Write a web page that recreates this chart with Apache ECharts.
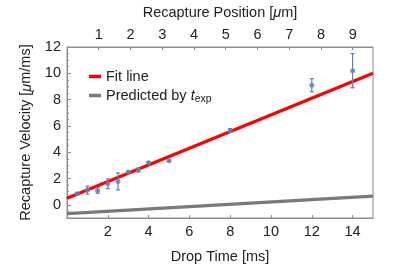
<!DOCTYPE html>
<html><head><meta charset="utf-8">
<script src="https://cdn.jsdelivr.net/npm/echarts@6/dist/echarts.min.js"></script>
<style>html,body{margin:0;padding:0;background:#fff}#c{width:403px;height:269px}</style>
</head><body><div id="c"></div>
<script>
// Data
const dropTime = [0.5, 1, 1.5, 2, 2.5, 3, 3.5, 4, 5, 8, 12, 14];
const velocity = [0.85, 1.12, 1.1, 1.6, 1.78, 2.5, 2.65, 3.2, 3.35, 5.65, 9.1, 10.2];
const velErr   = [0.08, 0.3, 0.22, 0.37, 0.64, 0.06, 0.15, 0.06, 0.05, 0.15, 0.5, 1.3];
const fitX = [0, 15];
const fitY = [0.5, 10];
const predX = [0, 15];
const predY = [-0.66, 0.66];
const yTicks = [0, 2, 4, 6, 8, 10, 12];
const yMinorTicks = [-0.5,0.5,1,1.5,2.5,3,3.5,4.5,5,5.5,6.5,7,7.5,8.5,9,9.5,10.5,11,11.5];
const topTicks = [1,2,3,4,5,6,7,8,9];
const bottomTicks = [2,4,6,8,10,12,14];

const axisGray = '#8c8c8c';
const font = 'Liberation Sans, Arial, sans-serif';
const chart = echarts.init(document.getElementById('c'), null, {renderer:'canvas'});

const errData = dropTime.map((x,i)=>[x, velocity[i]-velErr[i], velocity[i]+velErr[i]]);

chart.setOption({
  animation:false,
  backgroundColor:'#fff',
  grid:{left:67, right:30, top:40, bottom:42, show:true, borderColor:axisGray, borderWidth:1},
  legend:{
    left:84, top:64, orient:'vertical', itemGap:4, itemWidth:12, itemHeight:3.5,
    icon:'rect',
    data:['Fit line','Predicted'],
    formatter: n => n==='Predicted' ? 'Predicted by {i|t}{s|exp}' : n,
    textStyle:{fontFamily:font, fontSize:14.5, color:'#222',
      rich:{i:{fontStyle:'italic', fontSize:14.5, fontFamily:font, color:'#222'},
            s:{fontSize:10.5, fontFamily:font, color:'#222', padding:[8,0,0,0]}}}
  },
  xAxis:[
    {type:'value', position:'bottom', min:0, max:15,
     name:'Drop Time [ms]', nameLocation:'middle', nameGap:31,
     nameTextStyle:{fontFamily:font, fontSize:14.5, color:'#222'},
     axisLine:{show:true, onZero:false, lineStyle:{color:axisGray}},
     axisTick:{show:true, inside:true, length:3, customValues:bottomTicks, lineStyle:{color:axisGray}},
     axisLabel:{customValues:bottomTicks, fontFamily:font, fontSize:14.5, color:'#222', margin:6},
     splitLine:{show:false}},
    {type:'value', position:'top', min:0, max:9.64,
     name:'Recapture Position [{i|μ}m]', nameLocation:'middle', nameGap:27,
     nameTextStyle:{fontFamily:font, fontSize:14.5, color:'#222', rich:{i:{fontStyle:'italic', fontFamily:font, fontSize:14.5, color:'#222'}}},
     axisLine:{show:true, onZero:false, lineStyle:{color:axisGray}},
     axisTick:{show:true, inside:true, length:3, customValues:topTicks, lineStyle:{color:axisGray}},
     axisLabel:{customValues:topTicks, fontFamily:font, fontSize:14.5, color:'#222', margin:5},
     splitLine:{show:false}}
  ],
  yAxis:[
    {type:'value', min:-1, max:12,
     name:'Recapture Velocity [{i|μ}m/ms]', nameLocation:'middle', nameGap:25,
     nameTextStyle:{fontFamily:font, fontSize:14.5, color:'#222', rich:{i:{fontStyle:'italic', fontFamily:font, fontSize:14.5, color:'#222'}}},
     axisLine:{show:true, onZero:false, lineStyle:{color:axisGray}},
     axisTick:{show:true, inside:true, length:4, customValues:yTicks, lineStyle:{color:axisGray}},
     axisLabel:{customValues:yTicks, fontFamily:font, fontSize:14.5, color:'#222', margin:6},
     splitLine:{show:false}},
    {type:'value', min:-1, max:12, position:'left',
     axisLine:{show:false, onZero:false},
     axisTick:{show:true, inside:true, length:2, customValues:yMinorTicks, lineStyle:{color:axisGray}},
     axisLabel:{show:false}, splitLine:{show:false}}
  ],
  series:[
    {name:'Predicted', type:'line', data:predX.map((x,i)=>[x,predY[i]]), symbol:'none',
     lineStyle:{color:'#7a7a7a', width:3.2}, itemStyle:{color:'#7a7a7a'}, z:2},
    {name:'Fit line', type:'line', data:fitX.map((x,i)=>[x,fitY[i]]), symbol:'none',
     lineStyle:{color:'#ff0000', width:3.2}, itemStyle:{color:'#ff0000'}, z:3},
    {name:'err', type:'custom', data:errData, z:4,
     renderItem:(params, api)=>{
       const x=api.value(0), lo=api.value(1), hi=api.value(2);
       const p1=api.coord([x,lo]), p2=api.coord([x,hi]);
       const st={stroke:'#5e81b5', lineWidth:1.2};
       return {type:'group', children:[
         {type:'line', shape:{x1:p1[0],y1:p1[1],x2:p2[0],y2:p2[1]}, style:st},
         {type:'line', shape:{x1:p1[0]-2,y1:p1[1],x2:p1[0]+2,y2:p1[1]}, style:st},
         {type:'line', shape:{x1:p2[0]-2,y1:p2[1],x2:p2[0]+2,y2:p2[1]}, style:st}
       ]};
     }},
    {name:'data', type:'scatter', data:dropTime.map((x,i)=>[x,velocity[i]]), symbolSize:5,
     itemStyle:{color:'#5e81b5'}, z:5}
  ]
});
</script></body></html>
